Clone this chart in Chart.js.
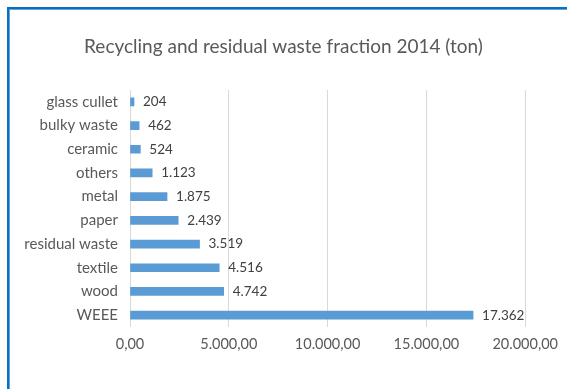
<!DOCTYPE html>
<html>
<head>
<meta charset="utf-8">
<script src="https://cdn.jsdelivr.net/npm/chart.js@4/dist/chart.umd.min.js"></script>
<style>
  html, body { margin: 0; padding: 0; background: #fff; overflow: hidden; }
  #wrap { position: relative; width: 567px; height: 389px; }
  canvas { position: absolute; left: 0; top: 0; }
  #frame {
    position: absolute; left: 7px; top: 7px; width: 600px; height: 420px;
    border-left: 2px solid #0b6fbf; border-top: 2px solid #0b6fbf;
    box-shadow: inset 1px 1px 0 #62a4dd;
    pointer-events: none;
  }
</style>
</head>
<body>
<div id="wrap">
  <canvas id="c" width="567" height="389"></canvas>
  <div id="frame"></div>
</div>
<script>
const categories = ['glass cullet', 'bulky waste', 'ceramic', 'others', 'metal', 'paper', 'residual waste', 'textile', 'wood', 'WEEE'];
const tonnes = [204, 462, 524, 1123, 1875, 2439, 3519, 4516, 4742, 17362];
const axisTicks = [0, 5000, 10000, 15000, 20000];
const chartTitle = 'Recycling and residual waste fraction 2014 (ton)';

const FONT = "Lato, 'Open Sans', 'Liberation Sans', sans-serif";

// thousands separated by '.', decimals by ','
function groupDigits(n) {
  return String(Math.trunc(n)).replace(/\B(?=(\d{3})+(?!\d))/g, '.');
}
function fmtTick(n) { return groupDigits(n) + ',00'; }

// title centred on the whole canvas, above the plot
const canvasTitle = {
  id: 'canvasTitle',
  afterDraw(chart) {
    const ctx = chart.ctx;
    ctx.save();
    ctx.font = '19px ' + FONT;
    ctx.fillStyle = '#595959';
    ctx.textAlign = 'center';
    ctx.textBaseline = 'middle';
    ctx.fillText(chartTitle, chart.width / 2, 47);
    ctx.restore();
  }
};

const valueLabels = {
  id: 'valueLabels',
  afterDatasetsDraw(chart) {
    const ctx = chart.ctx;
    const meta = chart.getDatasetMeta(0);
    ctx.save();
    ctx.font = '13.5px ' + FONT;
    ctx.fillStyle = '#404040';
    ctx.textBaseline = 'middle';
    ctx.textAlign = 'left';
    meta.data.forEach((bar, i) => {
      ctx.fillText(groupDigits(tonnes[i]), bar.x + 9, bar.y);
    });
    ctx.restore();
  }
};

new Chart(document.getElementById('c'), {
  type: 'bar',
  data: {
    labels: categories,
    datasets: [{
      data: tonnes,
      backgroundColor: '#5b9bd5',
      borderWidth: 0,
      barThickness: 8
    }]
  },
  options: {
    indexAxis: 'y',
    responsive: false,
    animation: false,
    devicePixelRatio: 1,
    layout: { padding: { left: 0, right: 40, top: 90, bottom: 18 } },
    plugins: {
      legend: { display: false },
      tooltip: { enabled: false },
      title: { display: false }
    },
    scales: {
      x: {
        min: 0,
        max: 20000,
        afterBuildTicks(scale) { scale.ticks = axisTicks.map(v => ({ value: v })); },
        afterFit(scale) { scale.height = 44; },
        grid: { color: '#d9d9d9', drawTicks: false, lineWidth: 1 },
        border: { display: false },
        ticks: {
          color: '#595959',
          font: { family: FONT, size: 14.5 },
          padding: 9,
          callback: (v) => fmtTick(v)
        }
      },
      y: {
        afterFit(scale) { scale.width = 130; },
        grid: { display: false, drawTicks: false },
        border: { display: false },
        ticks: {
          color: '#595959',
          font: { family: FONT, size: 15 },
          padding: 12
        }
      }
    }
  },
  plugins: [valueLabels, canvasTitle]
});
</script>
</body>
</html>
